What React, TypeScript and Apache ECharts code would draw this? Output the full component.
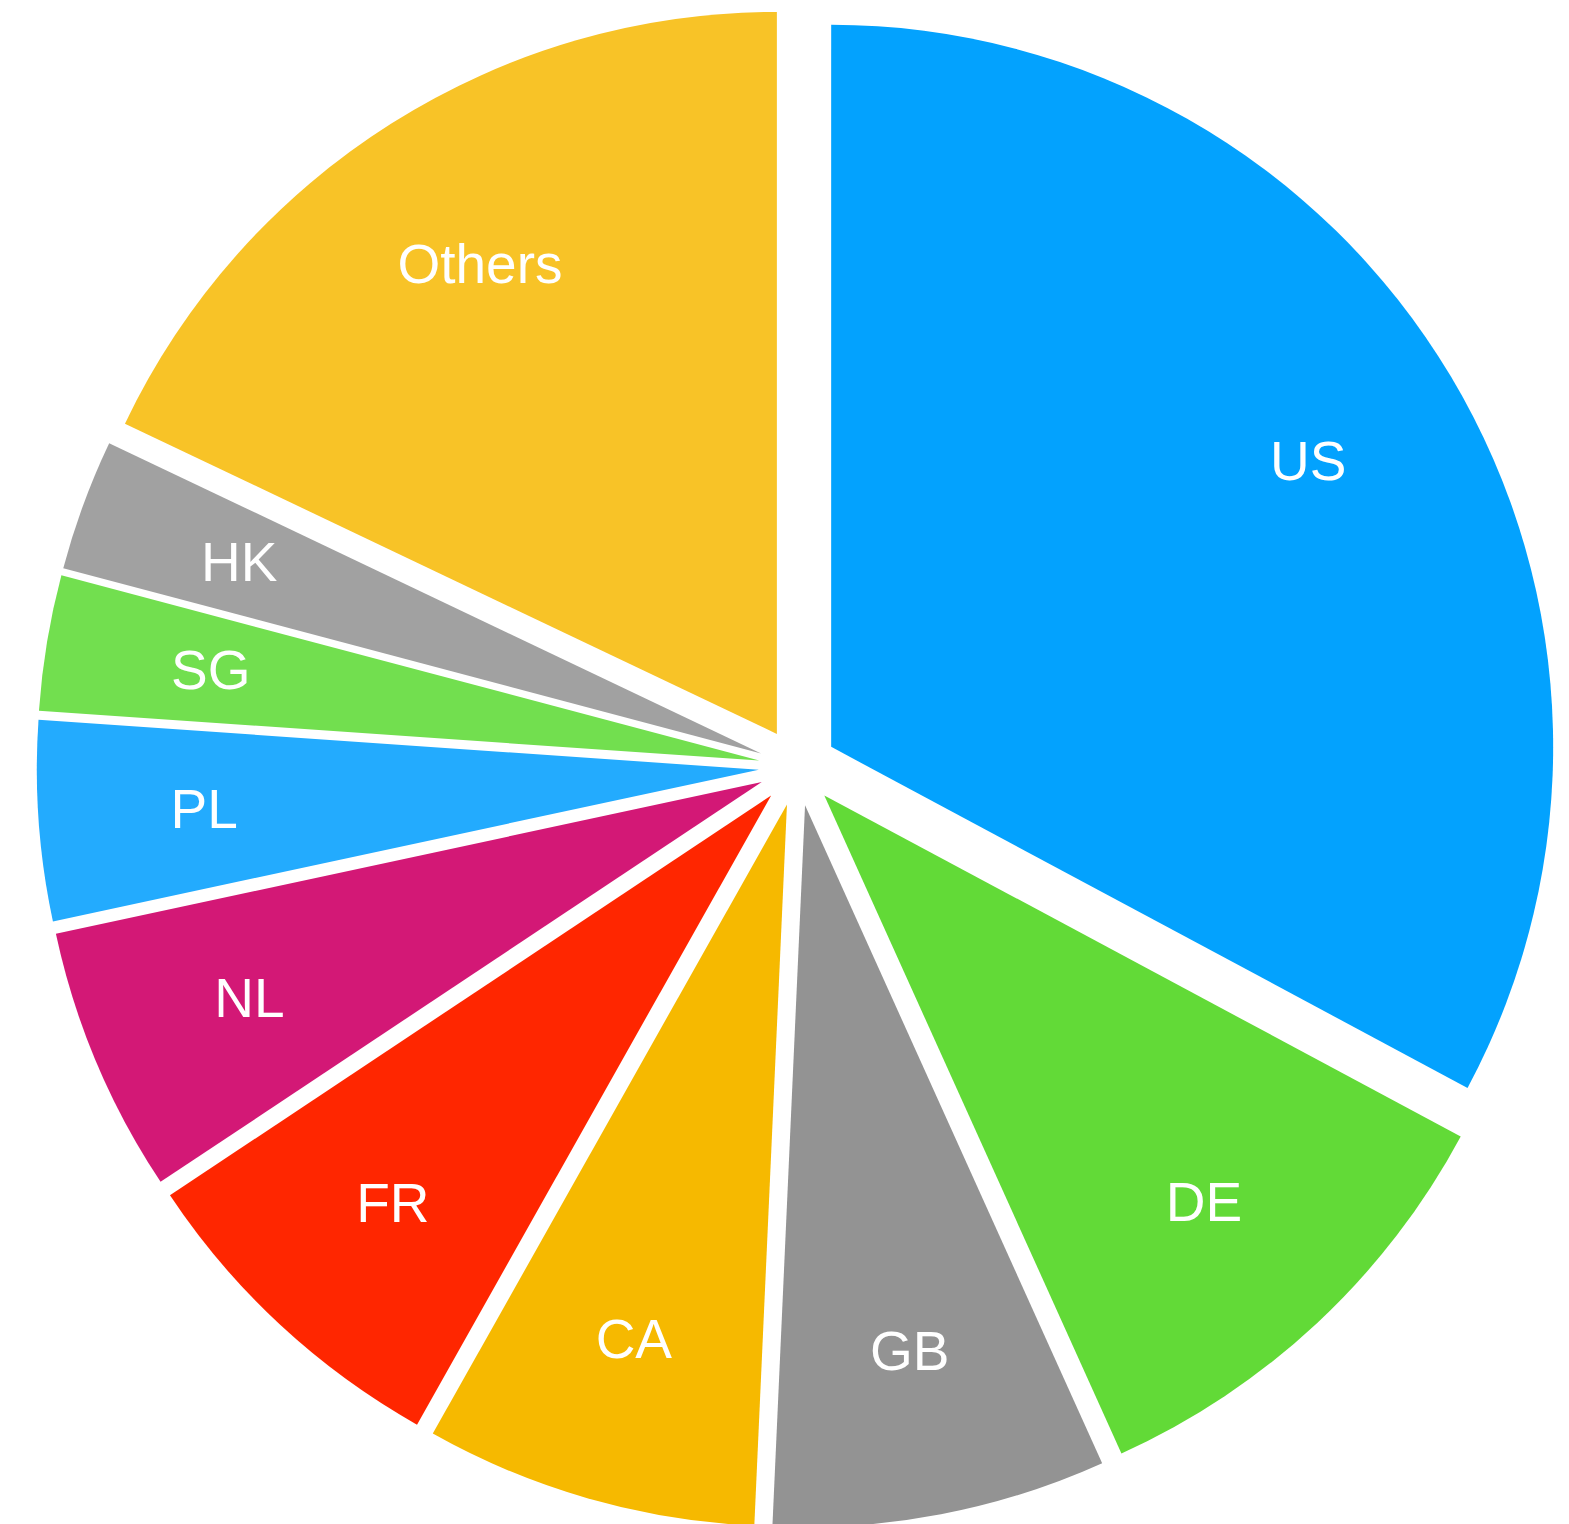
import React, { useEffect, useRef } from "react";
import * as echarts from "echarts";

const categories = ["US", "DE", "GB", "CA", "FR", "NL", "PL", "SG", "HK", "Others"];
const shares = [32.83, 10.42, 7.47, 7.44, 7.5, 5.97, 4.47, 3.03, 2.94, 17.93];
const colors = [
  "#03A2FE",
  "#62DA37",
  "#939393",
  "#F6B900",
  "#FF2600",
  "#D31876",
  "#23ABFE",
  "#72DF4F",
  "#A1A1A1",
  "#F8C327",
];

const W = 1569;
const H = 1524;
const CENTER = [797.7, 766.9];
const RADIUS = 722;
const OFFSET = 39;

export default function App() {
  const ref = useRef<HTMLDivElement>(null);
  useEffect(() => {
    if (!ref.current) return;
    const chart = echarts.init(ref.current, null, { renderer: "svg" });
    const fullData = categories.map((name, i) => ({
      name,
      value: shares[i],
      selected: true,
      itemStyle: { color: colors[i] },
      select: { itemStyle: { color: colors[i] } },
    }));
    const labelData = categories.map((name, i) => ({
      name,
      value: shares[i],
      selected: true,
    }));
    chart.setOption({
      animation: false,
      backgroundColor: "#ffffff",
      series: [
        {
          type: "pie",
          center: CENTER,
          radius: [0, RADIUS],
          startAngle: 90,
          clockwise: true,
          selectedMode: "multiple",
          selectedOffset: OFFSET,
          silent: true,
          avoidLabelOverlap: false,
          itemStyle: { borderWidth: 0 },
          label: { show: false },
          labelLine: { show: false },
          emphasis: { disabled: true },
          data: fullData,
        },
        {
          type: "pie",
          center: CENTER,
          radius: [384, RADIUS],
          startAngle: 90,
          clockwise: true,
          selectedMode: "multiple",
          selectedOffset: OFFSET,
          silent: true,
          avoidLabelOverlap: false,
          itemStyle: { borderWidth: 0, color: "rgba(0,0,0,0)" },
          select: { itemStyle: { color: "rgba(0,0,0,0)" } },
          label: {
            show: true,
            position: "inside",
            color: "#ffffff",
            fontSize: 55,
            fontFamily: "Liberation Sans, Arial, Helvetica, sans-serif",
            formatter: "{b}",
          },
          labelLine: { show: false },
          emphasis: { disabled: true },
          data: labelData,
        },
      ],
    });
    return () => chart.dispose();
  }, []);
  return (
    <div
      ref={ref}
      style={{ position: "absolute", left: 0, top: 0, width: W, height: H }}
    />
  );
}
